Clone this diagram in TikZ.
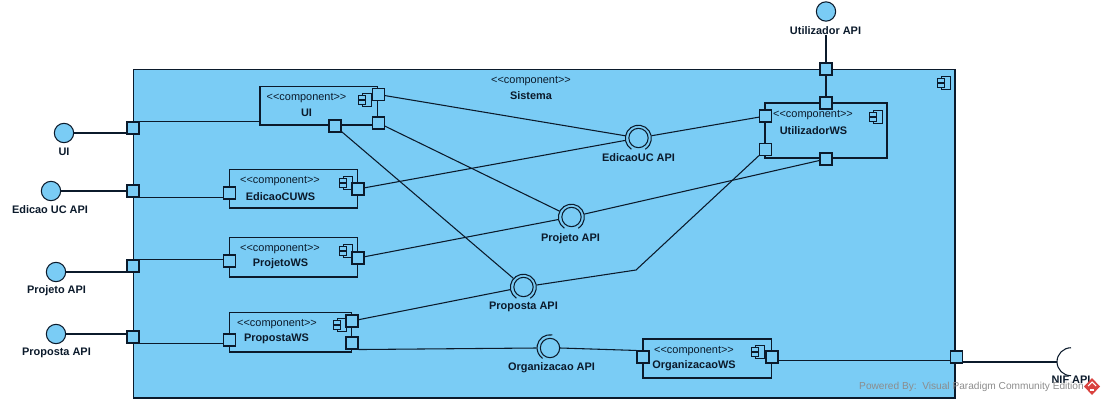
\documentclass[tikz,border=0pt]{standalone}
\usepackage{fontspec}
\setmainfont{Liberation Sans}
\usepackage{xcolor}
\usetikzlibrary{calc}
\definecolor{sysblue}{HTML}{7ACCF5}
\definecolor{inkblue}{HTML}{0B1A2B}
\definecolor{logored}{HTML}{D9433F}
\newcommand{\compst}{<{}<component>{}>}
\tikzset{
	base/.style={draw=inkblue, line width=.8pt},
	sysbox/.style={base, fill=sysblue, inner sep=0pt},
	size/.style 2 args={minimum width=#1*.75pt, minimum height=#2*.75pt},
	compbox/.style={sysbox},
	portbox/.style={sysbox, minimum size=9pt},
	iface/.style={sysbox, circle, minimum size=14.5pt},
	ringout/.style={circle, inner sep=0pt, minimum size=19.5pt},
	stereo/.style={text=inkblue, inner sep=0pt, yshift=-.75pt, font=\fontsize{8.2}{10}\selectfont},
	tag/.style={text=inkblue, inner sep=0pt, yshift=-.75pt, font=\fontsize{8.2}{10}\selectfont\bfseries},
	compicon/.pic={
		\draw[base, fill=sysblue] (-2.2pt,-5.2pt) rectangle (5.2pt,5.2pt);
		\draw[base, fill=sysblue] (-5pt,.5pt) rectangle (.2pt,3.4pt);
		\draw[base, fill=sysblue] (-5pt,-3.4pt) rectangle (.2pt,-.5pt);
	}
}
\begin{document}
\begin{tikzpicture}[x=.75pt, y=-.75pt]
	\useasboundingbox (0,0) rectangle (1105,403);
	%system box
	\node[compbox, size={821.5}{328.5}] (sistema) at (544.25,233.75) {};
	\pic at (944,83) {compicon};
	\node[stereo] (sistemast) at (531,80) {\compst};
	\node[tag] (sistemaname) at (531,95) {Sistema};

	% components
	\node[compbox, size={117.5}{38.5}] (ui) at (318.75,105.75) {};
	\node[compbox, size={128}{38.5}] (edicao) at (293.5,188.75) {};
	\node[compbox, size={128}{39.5}] (projeto) at (293.5,257.25) {};
	\node[compbox, size={122}{39.5}] (proposta) at (290.5,332.25) {};
	\node[compbox, size={122}{55}] (utilizador) at (826,130.5) {};
	\node[compbox, size={128.5}{39}] (organizacao) at (707.25,358.5) {};
	\pic at (365,100) {compicon};
	\pic at (346,183) {compicon};
	\pic at (346,251) {compicon};
	\pic at (340,325) {compicon};
	\pic at (876,117) {compicon};
	\pic at (758,352) {compicon};

	% component texts
	\node[stereo] (uist) at (306.5,97) {\compst};
	\node[tag] (uiname) at (306.5,112) {UI};
	\node[stereo] (edicaost) at (280,180) {\compst};
	\node[tag] (edicaoname) at (280.5,195.5) {EdicaoCUWS};
	\node[stereo] (projetost) at (280,248) {\compst};
	\node[tag] (projetoname) at (280.5,263) {ProjetoWS};
	\node[stereo] (propostast) at (277,323.5) {\compst};
	\node[tag] (propostaname) at (276.5,338) {PropostaWS};
	\node[stereo] (utilizadorst) at (813,114.5) {\compst};
	\node[tag] (utilizadorname) at (813.5,129.5) {UtilizadorWS};
	\node[stereo] (organizacaost) at (694,350.5) {\compst};
	\node[tag] (organizacaoname) at (694,365) {OrganizacaoWS};

	% ports on the system box
	\node[portbox] (sysui) at (133,128) {};
	\node[portbox] (sysedicao) at (133,191) {};
	\node[portbox] (sysprojeto) at (133,266) {};
	\node[portbox] (sysproposta) at (133,337) {};
	\node[portbox] (sysutilizador) at (826,69) {};
	\node[portbox] (sysnif) at (956.5,357) {};

	% ports on the components
	\node[portbox] (uione) at (378.5,94.5) {};
	\node[portbox] (uitwo) at (378.5,123) {};
	\node[portbox] (uithree) at (335,126) {};
	\node[portbox] (edicaoin) at (229.5,193) {};
	\node[portbox] (edicaoout) at (358,189) {};
	\node[portbox] (projetoin) at (229.5,261) {};
	\node[portbox] (projetoout) at (358,258) {};
	\node[portbox] (propostain) at (229.5,340) {};
	\node[portbox] (propostaone) at (352,321) {};
	\node[portbox] (propostatwo) at (352,343) {};
	\node[portbox] (utilizadortop) at (826,103) {};
	\node[portbox] (utilizadorone) at (765.5,116) {};
	\node[portbox] (utilizadortwo) at (765.5,149.5) {};
	\node[portbox] (utilizadorbot) at (826,159) {};
	\node[portbox] (organizacaoin) at (643,357) {};
	\node[portbox] (organizacaoout) at (772,357) {};

	% outer interfaces
	\node[iface] (uilol) at (64,133) {};
	\node[iface] (edicaolol) at (51,191) {};
	\node[iface] (projetolol) at (56,272) {};
	\node[iface] (propostalol) at (56,334) {};
	\node[iface] (utilizadorlol) at (826,11.5) {};
	\node[tag] (uilabel) at (64,151) {UI};
	\node[tag] (edicaolabel) at (50,209) {Edicao UC API};
	\node[tag] (projetolabel) at (56.5,290) {Projeto API};
	\node[tag] (propostalabel) at (56.5,352) {Proposta API};
	\node[tag] (utilizadorlabel) at (825.5,30) {Utilizador API};

	% inner interfaces
	\node[ringout] (edicaoapi) at (638.5,138) {};
	\node[ringout] (projetoapi) at (571.5,217) {};
	\node[ringout] (propostaapi) at (523.5,287) {};
	\node[ringout] (organizacaoapi) at (550,348) {};
	\foreach \n in {edicaoapi,projetoapi,propostaapi}{
		\node[iface] at (\n) {};
		\draw[base] (\n.238) arc (238:-58:9.75pt);
	}
	\node[iface] (organizacaoring) at (organizacaoapi) {};
	\draw[base] (organizacaoapi.80) arc (80:235:9.75pt);
	\node[tag] (edicaoapilabel) at (638.5,157) {EdicaoUC API};
	\node[tag] (projetoapilabel) at (570.5,238) {Projeto API};
	\node[tag] (propostaapilabel) at (523.5,306) {Proposta API};
	\node[tag] (organizacaoapilabel) at (551.5,367) {Organizacao API};

	% required interface
	\node[ringout, minimum size=21pt] (nif) at (1071,362) {};
	\draw[base] (nif.north) arc (90:270:10.5pt);
	\node[tag] (niflabel) at (1071,379) {NIF API};

	% outer connectors
	\draw[base] (uilol) -- (uilol -| sysui.west);
	\draw[base] (edicaolol) -- (sysedicao);
	\draw[base] (projetolol) -- (projetolol -| sysprojeto.west);
	\draw[base] (propostalol) -- (propostalol -| sysproposta.west);
	\draw[base] (utilizadorlabel.south -| sysutilizador) -- (sysutilizador);
	\draw[base] (sysui.north east) -- (sysui.north east -| ui.west);
	\draw[base] (sysedicao.south east) -- (sysedicao.south east -| edicaoin.west);
	\draw[base] (sysprojeto.north east) -- (sysprojeto.north east -| projetoin.west);
	\draw[base] (sysproposta.south east) -- (sysproposta.south east -| propostain.west);
	\draw[base] (sysutilizador) -- (utilizadortop);
	\draw[base] ([yshift=-2.6pt]organizacaoout.east) -- ([yshift=-2.6pt]sysnif.west);
	\draw[base] (nif.west -| sysnif.east) -- (nif.west);

	% inner connectors
	\draw[base] (uione) -- (edicaoapi);
	\draw[base] (edicaoout) -- (edicaoapi);
	\draw[base] (utilizadorone) -- (edicaoapi);
	\draw[base] (uitwo) -- (projetoapi);
	\draw[base] (projetoout) -- (projetoapi);
	\draw[base] (utilizadorbot) -- (projetoapi);
	\draw[base] (uithree) -- (propostaapi);
	\draw[base] (propostaone) -- (propostaapi);
	\coordinate (bend) at (636,270);
	\draw[base] (propostaapi) -- (bend) -- (utilizadortwo);
	\draw[base] (propostatwo.south east) -- (organizacaoapi.west);
	\draw[base] (organizacaoring.east) -- (organizacaoin.north west);

	% watermark
	\node[inner sep=0pt, text=black!45, font=\fontsize{7.6}{9}\selectfont] (powered) at (971.5,386.5) {Powered By:\ \ Visual Paradigm Community Edition};
	\fill[logored] (1092,378) -- (1100,386.5) -- (1092,395) -- (1084,386.5) -- cycle;
	\draw[white, line width=.8pt] (1088,386) -- (1092,382) -- (1096,386);
	\draw[white, line width=.8pt] (1090,390) -- (1094,390);
\end{tikzpicture}
\end{document}
